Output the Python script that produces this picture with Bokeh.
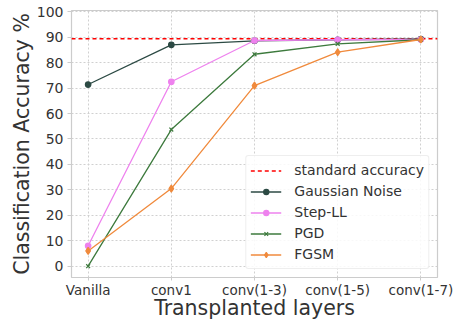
from bokeh.plotting import figure
from bokeh.models import FixedTicker, Legend, LegendItem, Range1d, ColumnDataSource
from bokeh.embed import file_html
from bokeh.resources import INLINE

categories = ["Vanilla", "conv1", "conv(1-3)", "conv(1-5)", "conv(1-7)"]
standard_accuracy = 89.4
gaussian_noise = [71.4, 87.0, 88.6, 89.0, 89.3]
step_ll = [8.0, 72.5, 88.7, 89.0, 89.1]
pgd = [0.0, 53.7, 83.3, 87.4, 89.0]
fgsm = [6.0, 30.5, 71.0, 84.1, 89.1]
y_ticks = [0, 10, 20, 30, 40, 50, 60, 70, 80, 90, 100]

xs = list(range(len(categories)))
FONT = "DejaVu Sans"
TXT = "#333333"
X_START, X_END = -0.2, 4.2

p = figure(width=455, height=322, output_backend="svg", toolbar_location=None,
           x_range=Range1d(X_START, X_END), y_range=Range1d(-4.45, 100.5),
           min_border_left=71, min_border_right=18, min_border_top=10, min_border_bottom=4)
p.outline_line_color = "#cccccc"
p.outline_line_width = 1.2
p.background_fill_color = "white"
p.border_fill_color = "white"

for ax in (p.xaxis[0], p.yaxis[0]):
    ax.axis_line_color = None
    ax.major_tick_line_color = "#cccccc"
    ax.major_tick_in = 0
    ax.major_tick_out = 4
    ax.minor_tick_line_color = None
    ax.major_label_text_font = FONT
    ax.major_label_text_color = TXT
    ax.axis_label_text_font = FONT
    ax.axis_label_text_color = TXT
    ax.axis_label_text_font_style = "normal"

p.xaxis.ticker = FixedTicker(ticks=xs)
p.xaxis.major_label_overrides = {i: c for i, c in enumerate(categories)}
p.xaxis.major_label_text_font_size = "13.5px"
p.xaxis.axis_label = "Transplanted layers"
p.xaxis.axis_label_text_font_size = "20.5px"
p.xaxis.axis_label_standoff = -5
p.xaxis.major_label_standoff = 1
p.xaxis.major_tick_out = 3

p.yaxis.ticker = FixedTicker(ticks=y_ticks)
p.yaxis.major_label_text_font_size = "14px"
p.yaxis.axis_label = "Classification Accuracy %"
p.yaxis.axis_label_text_font_size = "20.5px"
p.yaxis.axis_label_standoff = 0
p.yaxis.major_label_standoff = 4

p.grid.grid_line_color = "#d0d0d0"
p.grid.grid_line_dash = "2 2"
p.grid.grid_line_width = 1

std_line = p.line(x=[X_START, X_END], y=[standard_accuracy, standard_accuracy],
                  line_color="red", line_dash="4 3", line_width=1.3)

series = [
    ("Gaussian Noise", gaussian_noise, "#2c4a44", "circle"),
    ("Step-LL", step_ll, "#ee82ee", "circle"),
    ("PGD", pgd, "#3d7a3d", "x"),
    ("FGSM", fgsm, "#f08a3c", "diamond"),
]
items = [LegendItem(label="standard accuracy", renderers=[std_line])]
for name, vals, col, mk in series:
    src = ColumnDataSource(dict(x=xs, y=vals))
    l = p.line("x", "y", source=src, line_color=col, line_width=1.3)
    s = p.scatter("x", "y", source=src, marker=mk, size=7 if mk == "diamond" else 5.5,
                  fill_color=col, line_color=col, line_width=1.2)
    items.append(LegendItem(label=name, renderers=[l, s]))

leg = Legend(items=items, location="bottom_right")
leg.label_text_font = FONT
leg.label_text_font_size = "14px"
leg.label_text_color = TXT
leg.glyph_width = 31
leg.glyph_height = 13
leg.label_height = 20
leg.label_standoff = 13
leg.spacing = 1
leg.padding = 4
leg.margin = 8
leg.border_line_color = "#dddddd"
leg.border_radius = 3
leg.background_fill_alpha = 0.85
p.add_layout(leg)

open("out.html", "w").write(file_html(p, INLINE))
